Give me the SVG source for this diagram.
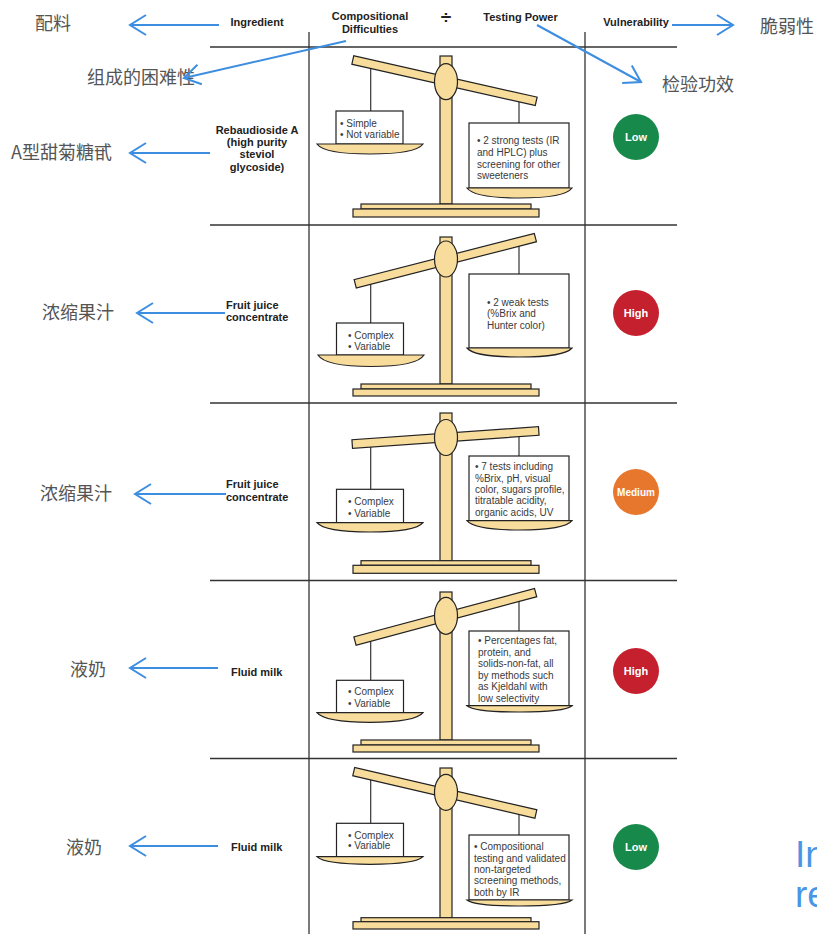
<svg xmlns="http://www.w3.org/2000/svg" width="817" height="934" viewBox="0 0 817 934">
  <style>
    .grid { stroke: #333; stroke-width: 1.3; fill: none; }
    .hdr { font-family: "Liberation Sans", Arial, sans-serif; font-size: 11px; font-weight: bold; fill: #222; }
    .ing { font-family: "Liberation Sans", Arial, sans-serif; font-size: 11px; font-weight: bold; fill: #222; }
    .box-text { font-family: "Liberation Sans", Arial, sans-serif; font-size: 10px; fill: #3a3a3a; }
    .wood { fill: #f8dc9c; stroke: #222; stroke-width: 1.2; }
    .box { fill: #fff; stroke: #222; stroke-width: 1.2; }
    .string { stroke: #333; stroke-width: 1.2; }
    .zh { font-family: "Noto Sans CJK SC", "Noto Sans", sans-serif; font-size: 18px; fill: #555; }
    .badge-text { font-family: "Liberation Sans", Arial, sans-serif; font-weight: bold; fill: #fff; text-anchor: middle; }
    .conn { stroke: #3d8ee0; stroke-width: 2; fill: none; marker-end: url(#chevron); }
    .note { font-family: "Liberation Sans", Arial, sans-serif; font-size: 37px; fill: #4a96e6; }
  </style>
  <defs>
    <marker id="chevron" viewBox="0 0 20 24" refX="18" refY="12" markerWidth="20" markerHeight="24" markerUnits="userSpaceOnUse" orient="auto">
      <path d="M2,2 L18,12 L2,22" fill="none" stroke="#3d8ee0" stroke-width="2"/>
    </marker>
  </defs>

  <rect width="817" height="934" fill="#fff"/>

  <!-- table grid -->
  <g id="grid" class="grid">
    <line x1="309" y1="32" x2="309" y2="934"/>
    <line x1="585" y1="32" x2="585" y2="934"/>
    <line x1="210" y1="47" x2="677" y2="47"/>
    <line x1="210" y1="225" x2="677" y2="225"/>
    <line x1="210" y1="403" x2="677" y2="403"/>
    <line x1="210" y1="580.5" x2="677" y2="580.5"/>
    <line x1="210" y1="758.5" x2="677" y2="758.5"/>
  </g>

  <!-- column headings -->
  <g id="headings">
    <text class="hdr" x="257" y="26" text-anchor="middle">Ingredient</text>
    <text class="hdr" x="370" y="20" text-anchor="middle">Compositional</text>
    <text class="hdr" x="370" y="32.5" text-anchor="middle">Difficulties</text>
    <text class="hdr" x="446" y="24" text-anchor="middle" style="font-size:19px">÷</text>
    <text class="hdr" x="520.5" y="21" text-anchor="middle">Testing Power</text>
    <text class="hdr" x="636" y="26" text-anchor="middle">Vulnerability</text>
  </g>

  <!-- ingredient names -->
  <g id="ingredient-1">
    <text class="ing" x="257" y="134" text-anchor="middle">Rebaudioside A</text>
    <text class="ing" x="257" y="146.2" text-anchor="middle">(high purity</text>
    <text class="ing" x="257" y="158.4" text-anchor="middle">steviol</text>
    <text class="ing" x="257" y="170.6" text-anchor="middle">glycoside)</text>
  </g>
  <g id="ingredient-2">
    <text class="ing" x="226" y="309">Fruit juice</text>
    <text class="ing" x="226" y="320.7">concentrate</text>
  </g>
  <g id="ingredient-3">
    <text class="ing" x="226" y="488">Fruit juice</text>
    <text class="ing" x="226" y="500.5">concentrate</text>
  </g>
  <g id="ingredient-4">
    <text class="ing" x="231" y="675.5">Fluid milk</text>
  </g>
  <g id="ingredient-5">
    <text class="ing" x="231" y="851">Fluid milk</text>
  </g>

  <!-- balance 1 -->
  <g id="scale-1">
    <rect class="wood" x="440" y="56" width="12" height="148"/>
    <line class="string" x1="370.7" y1="64" x2="370.7" y2="111"/>
    <line class="string" x1="519" y1="97" x2="519" y2="123"/>
    <rect class="wood" x="-94" y="-4.3" width="188" height="8.6" transform="translate(444.5,80.7) rotate(12.7)"/>
    <ellipse class="wood" cx="446" cy="81.7" rx="11.5" ry="18"/>
    <rect class="box" x="336" y="111" width="67" height="33"/>
    <path class="wood" d="M317,144 H423 C418,151 398,154 370,154 C342,154 322,151 317,144 Z"/>
    <rect class="box" x="469" y="123" width="100" height="65"/>
    <path class="wood" d="M467,188 H572 C567,195 547,198 519.5,198 C492,198 472,195 467,188 Z"/>
    <rect class="wood" x="361" y="204" width="170" height="5"/>
    <rect class="wood" x="353" y="209" width="186" height="8"/>
    <text class="box-text" x="340" y="126.8">• Simple</text>
    <text class="box-text" x="340" y="137.8">• Not variable</text>
    <text class="box-text" x="477" y="144.3">• 2 strong tests (IR</text>
    <text class="box-text" x="477" y="155.9">and HPLC) plus</text>
    <text class="box-text" x="477" y="167.5">screening for other</text>
    <text class="box-text" x="477" y="179">sweeteners</text>
  </g>

  <!-- balance 2 -->
  <g id="scale-2">
    <rect class="wood" x="440" y="237" width="12" height="147"/>
    <line class="string" x1="370.7" y1="280" x2="370.7" y2="323"/>
    <line class="string" x1="519" y1="242" x2="519" y2="274"/>
    <rect class="wood" x="-93" y="-4.3" width="186" height="8.6" transform="translate(445.3,260.7) rotate(-14.4)"/>
    <ellipse class="wood" cx="446" cy="259" rx="11.5" ry="18"/>
    <rect class="box" x="336.5" y="323" width="67" height="32"/>
    <path class="wood" d="M318,355 H424 C419,363 399,366.5 371,366.5 C343,366.5 323,363 318,355 Z"/>
    <rect class="box" x="469" y="274" width="100" height="74"/>
    <path class="wood" d="M467,348 H572 C567,354 547,357 519.5,357 C492,357 472,354 467,348 Z"/>
    <rect class="wood" x="361" y="384" width="170" height="5"/>
    <rect class="wood" x="353" y="389" width="186" height="7"/>
    <text class="box-text" x="348" y="338.5">• Complex</text>
    <text class="box-text" x="348" y="350">• Variable</text>
    <text class="box-text" x="487" y="306">• 2 weak tests</text>
    <text class="box-text" x="487" y="317.3">(%Brix and</text>
    <text class="box-text" x="487" y="328.6">Hunter color)</text>
  </g>

  <!-- balance 3 -->
  <g id="scale-3">
    <rect class="wood" x="440" y="413" width="12" height="148"/>
    <line class="string" x1="370.7" y1="443" x2="370.7" y2="489.3"/>
    <line class="string" x1="519" y1="432" x2="519" y2="456"/>
    <rect class="wood" x="-93.5" y="-4.3" width="187" height="8.6" transform="translate(445.5,437.5) rotate(-4)"/>
    <ellipse class="wood" cx="446" cy="437.5" rx="11.5" ry="18"/>
    <rect class="box" x="336.5" y="489.3" width="67" height="33.4"/>
    <path class="wood" d="M317,522.7 H423 C418,529 398,532 370,532 C342,532 322,529 317,522.7 Z"/>
    <rect class="box" x="469" y="456" width="100" height="64.7"/>
    <path class="wood" d="M467,520.7 H572 C567,527 547,530 519.5,530 C492,530 472,527 467,520.7 Z"/>
    <rect class="wood" x="361" y="560.7" width="170" height="4.6"/>
    <rect class="wood" x="353" y="565.3" width="186" height="8"/>
    <text class="box-text" x="348" y="505.3">• Complex</text>
    <text class="box-text" x="348" y="516.6">• Variable</text>
    <text class="box-text" x="475" y="470.3">• 7 tests including</text>
    <text class="box-text" x="475" y="481.6">%Brix, pH, visual</text>
    <text class="box-text" x="475" y="492.9">color, sugars profile,</text>
    <text class="box-text" x="475" y="504.2">titratable acidity,</text>
    <text class="box-text" x="475" y="515.5">organic acids, UV</text>
  </g>

  <!-- balance 4 -->
  <g id="scale-4">
    <rect class="wood" x="440" y="592" width="12" height="148"/>
    <line class="string" x1="370.7" y1="637" x2="370.7" y2="680.3"/>
    <line class="string" x1="519" y1="597" x2="519" y2="631"/>
    <rect class="wood" x="-93.5" y="-4.3" width="187" height="8.6" transform="translate(445.3,616.8) rotate(-15)"/>
    <ellipse class="wood" cx="446" cy="615.8" rx="11.5" ry="18.5"/>
    <rect class="box" x="336.5" y="680.3" width="67" height="32.4"/>
    <path class="wood" d="M317,712.7 H423 C418,719 398,722.3 370,722.3 C342,722.3 322,719 317,712.7 Z"/>
    <rect class="box" x="469" y="631" width="100" height="74.7"/>
    <path class="wood" d="M467,705.7 H572 C567,710 547,712 519.5,712 C492,712 472,710 467,705.7 Z"/>
    <rect class="wood" x="361" y="740" width="170" height="5"/>
    <rect class="wood" x="353" y="745" width="186" height="7"/>
    <text class="box-text" x="348" y="695.3">• Complex</text>
    <text class="box-text" x="348" y="706.6">• Variable</text>
    <text class="box-text" x="478" y="644">• Percentages fat,</text>
    <text class="box-text" x="478" y="655.5">protein, and</text>
    <text class="box-text" x="478" y="667">solids-non-fat, all</text>
    <text class="box-text" x="478" y="678.5">by methods such</text>
    <text class="box-text" x="478" y="690">as Kjeldahl with</text>
    <text class="box-text" x="478" y="701.5">low selectivity</text>
  </g>

  <!-- balance 5 -->
  <g id="scale-5">
    <rect class="wood" x="440" y="768" width="12" height="150"/>
    <line class="string" x1="370.7" y1="775" x2="370.7" y2="823.3"/>
    <line class="string" x1="519" y1="810" x2="519" y2="835"/>
    <rect class="wood" x="-93.5" y="-4.3" width="187" height="8.6" transform="translate(444.8,792.8) rotate(13.1)"/>
    <ellipse class="wood" cx="446" cy="792.3" rx="11.5" ry="18"/>
    <rect class="box" x="336.5" y="823.3" width="67" height="33.4"/>
    <path class="wood" d="M317,856.7 H423 C418,862 398,864.3 370,864.3 C342,864.3 322,862 317,856.7 Z"/>
    <rect class="box" x="469" y="835" width="100" height="65"/>
    <path class="wood" d="M467,900 H572 C567,904 547,906 519.5,906 C492,906 472,904 467,900 Z"/>
    <rect class="wood" x="361" y="917.7" width="170" height="4"/>
    <rect class="wood" x="353" y="921.7" width="186" height="7.3"/>
    <text class="box-text" x="348" y="838.6">• Complex</text>
    <text class="box-text" x="348" y="849.3">• Variable</text>
    <text class="box-text" x="474" y="850.3">• Compositional</text>
    <text class="box-text" x="474" y="861.6">testing and validated</text>
    <text class="box-text" x="474" y="872.9">non-targeted</text>
    <text class="box-text" x="474" y="884.2">screening methods,</text>
    <text class="box-text" x="474" y="895.5">both by IR</text>
  </g>

  <!-- vulnerability badges -->
  <g id="badge-1">
    <circle cx="636" cy="137" r="23" fill="#17894a"/>
    <text class="badge-text" x="636" y="141" font-size="11">Low</text>
  </g>
  <g id="badge-2">
    <circle cx="636" cy="313" r="23" fill="#c4202e"/>
    <text class="badge-text" x="636" y="317" font-size="11">High</text>
  </g>
  <g id="badge-3">
    <circle cx="636" cy="492" r="23" fill="#e8772e"/>
    <text class="badge-text" x="636" y="495.5" font-size="10">Medium</text>
  </g>
  <g id="badge-4">
    <circle cx="636" cy="671" r="23" fill="#c4202e"/>
    <text class="badge-text" x="636" y="675" font-size="11">High</text>
  </g>
  <g id="badge-5">
    <circle cx="636" cy="847" r="23" fill="#17894a"/>
    <text class="badge-text" x="636" y="851" font-size="11">Low</text>
  </g>

  <!-- Chinese annotations -->
  <g id="zh-labels">
    <text class="zh" x="35" y="30">配料</text>
    <text class="zh" x="760" y="33">脆弱性</text>
    <text class="zh" x="87" y="84">组成的困难性</text>
    <text class="zh" x="662" y="91">检验功效</text>
    <text class="zh" x="11" y="159">A型甜菊糖甙</text>
    <text class="zh" x="42" y="319">浓缩果汁</text>
    <text class="zh" x="40" y="500">浓缩果汁</text>
    <text class="zh" x="70" y="676">液奶</text>
    <text class="zh" x="66" y="854">液奶</text>
  </g>

  <!-- annotation arrows -->
  <g id="connectors">
    <line class="conn" x1="219" y1="25" x2="130" y2="25"/>
    <line class="conn" x1="672" y1="25" x2="733" y2="25"/>
    <line class="conn" x1="346" y1="41" x2="184" y2="78"/>
    <line class="conn" x1="537" y1="25" x2="641" y2="82"/>
    <line class="conn" x1="210" y1="153" x2="130" y2="153"/>
    <line class="conn" x1="225" y1="313" x2="137" y2="313"/>
    <line class="conn" x1="226" y1="494" x2="135" y2="494"/>
    <line class="conn" x1="218" y1="668" x2="130" y2="668"/>
    <line class="conn" x1="218" y1="846" x2="130" y2="846"/>
  </g>

  <!-- partially visible note at the right edge -->
  <g id="note">
    <text class="note" x="795" y="867">In</text>
    <text class="note" x="795" y="906.5">re</text>
  </g>
</svg>
